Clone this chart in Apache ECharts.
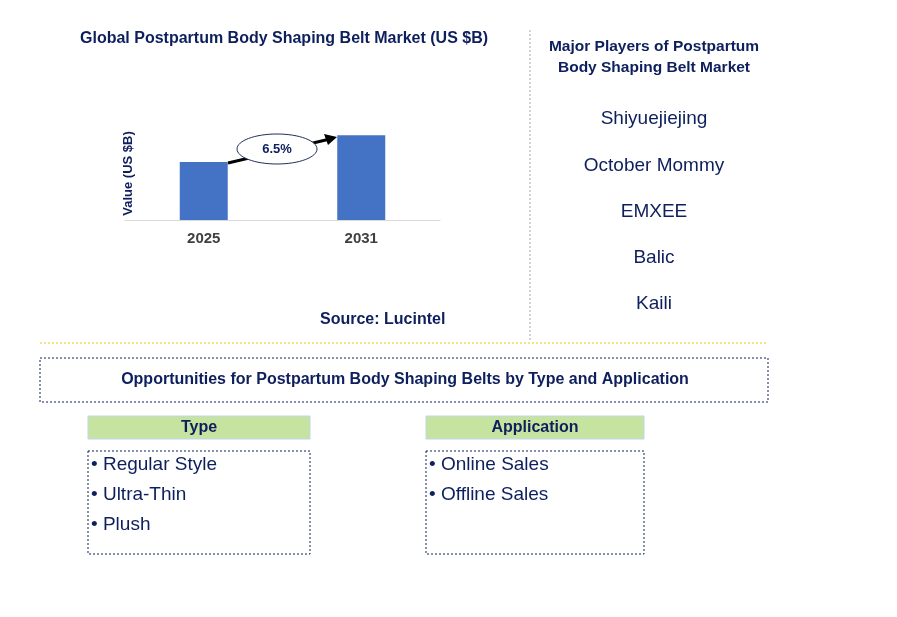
<!DOCTYPE html>
<html>
<head>
<meta charset="utf-8">
<script src="https://cdn.jsdelivr.net/npm/echarts@6/dist/echarts.min.js"></script>
<style>html,body{margin:0;padding:0;background:#fff}#main{width:897px;height:617px}</style>
</head>
<body>
<div id="main"></div>
<script>
var years = ['2025', '2031'];
var values = [1.0, 1.46];
var cagr = '6.5%';
var players = ['Shiyuejiejing', 'October Mommy', 'EMXEE', 'Balic', 'Kaili'];
var typeItems = ['Regular Style', 'Ultra-Thin', 'Plush'];
var appItems = ['Online Sales', 'Offline Sales'];

var navy = '#0D1F5C';
var font = 'Liberation Sans, Arial, sans-serif';
var chart = echarts.init(document.getElementById('main'));

var g = [
  { type: 'text', left: 80, top: 31, style: { text: 'Global Postpartum Body Shaping Belt Market (US $B)', font: 'bold 16px ' + font, fill: navy } },
  { type: 'text', left: 320, top: 312, style: { text: 'Source: Lucintel', font: 'bold 16px ' + font, fill: navy } },
  { type: 'line', shape: { x1: 530, y1: 30, x2: 530, y2: 340 }, style: { stroke: '#aaa', lineDash: [2, 2], lineWidth: 1 } },
  { type: 'line', shape: { x1: 40, y1: 343, x2: 768, y2: 343 }, style: { stroke: '#F5C400', lineDash: [2, 2], lineWidth: 1 } },
  { type: 'text', x: 654, y: 36, style: { text: 'Major Players of Postpartum\nBody Shaping Belt Market', font: 'bold 15.5px ' + font, fill: navy, align: 'center', lineHeight: 21 } },
  // CAGR arrow and ellipse
  { type: 'line', shape: { x1: 228, y1: 163, x2: 330, y2: 139 }, style: { stroke: '#000', lineWidth: 3 } },
  { type: 'polygon', shape: { points: [[337, 137], [324, 134], [328, 145]] }, style: { fill: '#000' } },
  { type: 'ellipse', shape: { cx: 277, cy: 149, rx: 40, ry: 15 }, style: { fill: '#fff', stroke: '#1F2D5A', lineWidth: 1 } },
  { type: 'text', x: 277, y: 149, style: { text: cagr, font: 'bold 13px ' + font, fill: navy, align: 'center', verticalAlign: 'middle' } },
  // opportunities
  { type: 'rect', shape: { x: 40, y: 358, width: 728, height: 44 }, style: { fill: 'none', stroke: navy, lineDash: [2, 2], lineWidth: 1 } },
  { type: 'text', x: 405, y: 380, style: { text: 'Opportunities for Postpartum Body Shaping Belts by Type and Application', font: 'bold 16px ' + font, fill: navy, align: 'center', verticalAlign: 'middle' } },
  { type: 'rect', shape: { x: 88, y: 416, width: 222, height: 23 }, style: { fill: '#C6E3A0', stroke: '#BDD7EE', lineWidth: 1 } },
  { type: 'text', x: 199, y: 428, style: { text: 'Type', font: 'bold 16px ' + font, fill: navy, align: 'center', verticalAlign: 'middle' } },
  { type: 'rect', shape: { x: 426, y: 416, width: 218, height: 23 }, style: { fill: '#C6E3A0', stroke: '#BDD7EE', lineWidth: 1 } },
  { type: 'text', x: 535, y: 428, style: { text: 'Application', font: 'bold 16px ' + font, fill: navy, align: 'center', verticalAlign: 'middle' } },
  { type: 'rect', shape: { x: 88, y: 451, width: 222, height: 103 }, style: { fill: 'none', stroke: navy, lineDash: [2, 2], lineWidth: 1 } },
  { type: 'rect', shape: { x: 426, y: 451, width: 218, height: 103 }, style: { fill: 'none', stroke: navy, lineDash: [2, 2], lineWidth: 1 } }
];
players.forEach(function (p, i) {
  g.push({ type: 'text', x: 654, y: 119 + i * 46.3, style: { text: p, font: '19px ' + font, fill: navy, align: 'center', verticalAlign: 'middle' } });
});
typeItems.forEach(function (t, i) {
  g.push({ type: 'text', x: 91, y: 465 + i * 30, style: { text: '\u2022 ' + t, font: '19px ' + font, fill: navy, verticalAlign: 'middle' } });
});
appItems.forEach(function (t, i) {
  g.push({ type: 'text', x: 429, y: 465 + i * 30, style: { text: '\u2022 ' + t, font: '19px ' + font, fill: navy, verticalAlign: 'middle' } });
});

chart.setOption({
  animation: false,
  textStyle: { fontFamily: font },
  grid: { left: 125, right: 457, top: 127, bottom: 397 },
  xAxis: {
    type: 'category', data: years,
    axisLine: { lineStyle: { color: '#d9d9d9' } }, axisTick: { show: false },
    axisLabel: { color: '#404040', fontWeight: 'bold', fontSize: 15, margin: 11 }
  },
  yAxis: {
    type: 'value', min: 0, max: 1.6,
    name: 'Value (US $B)', nameLocation: 'middle', nameGap: -10, nameRotate: 90,
    nameTextStyle: { color: navy, fontWeight: 'bold', fontSize: 13 },
    axisLine: { show: false }, axisTick: { show: false }, axisLabel: { show: false }, splitLine: { show: false }
  },
  series: [{ type: 'bar', data: values, barWidth: 48, itemStyle: { color: '#4472C4' } }],
  graphic: g
});
</script>
</body>
</html>
